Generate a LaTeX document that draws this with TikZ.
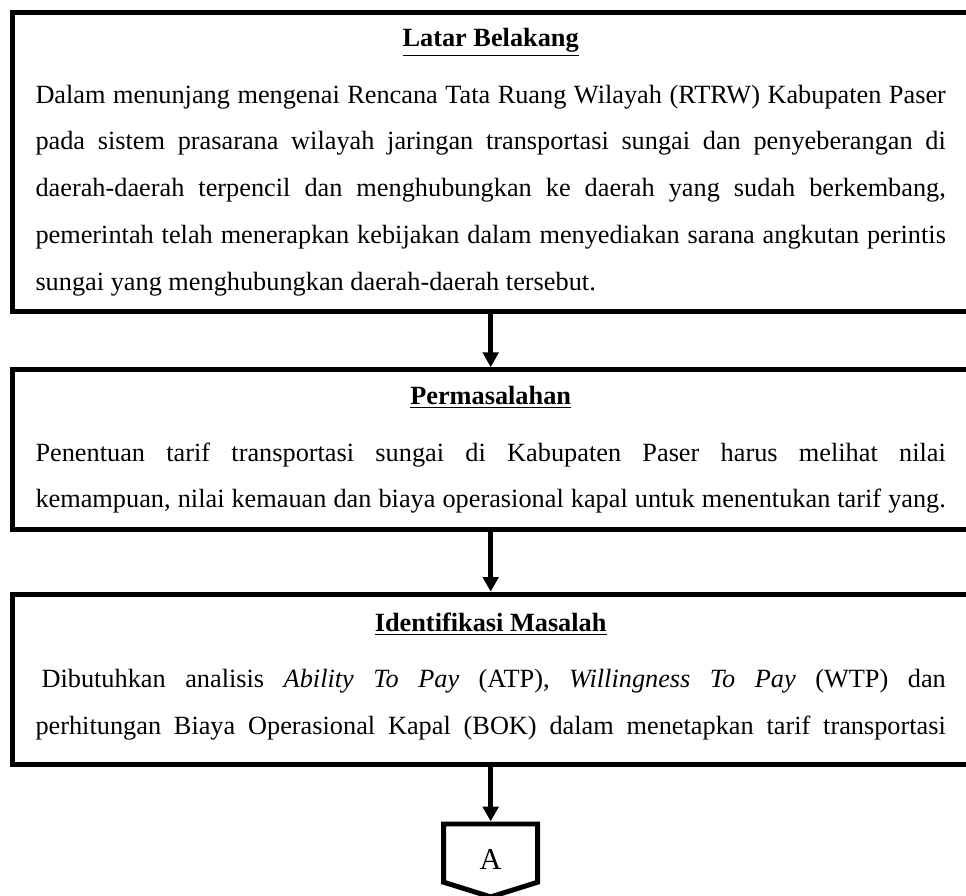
\documentclass[tikz,border=0pt]{standalone}
\usepackage{fontspec}
\setmainfont{Liberation Serif}
\usepackage{tikz}
\usetikzlibrary{arrows.meta}
\newcommand{\flowspace}{\spaceskip=0.25em plus 0.6em minus 0.1em\relax}

\begin{document}
\begin{tikzpicture}[x=1mm,y=1mm,
  flowbox/.style={draw=black, line width=2.2pt, anchor=north, text width=142.3mm,
    inner xsep=3.65mm, inner ysep=6.5pt, font=\fontsize{11.7}{20.8}\selectfont,
    execute at begin node=\flowspace},
  flowarrow/.style={line width=2.1pt, -{Triangle[length=2.3mm, width=2.4mm]}},
  offpage/.style={draw=black, line width=2.2pt, line join=miter}]
  \path[use as bounding box] (0,0) rectangle (151,140);
  \node[flowbox] (latar) at (76.7,138.5) {%
    \noindent\makebox[\linewidth]{\rule{0pt}{9pt}\textbf{\underline{Latar Belakang}}}\\[4.2pt]
    \makebox[\linewidth][s]{Dalam menunjang mengenai Rencana Tata Ruang Wilayah (RTRW) Kabupaten Paser}\\
    \makebox[\linewidth][s]{pada sistem prasarana wilayah jaringan transportasi sungai dan penyeberangan di}\\
    \makebox[\linewidth][s]{daerah-daerah terpencil dan menghubungkan ke daerah yang sudah berkembang,}\\
    \makebox[\linewidth][s]{pemerintah telah menerapkan kebijakan dalam menyediakan sarana angkutan perintis}\\
    sungai yang menghubungkan daerah-daerah tersebut.\rule[-3pt]{0pt}{3pt}
  };
  \node[flowbox] (masalah) at (76.7,82.6) {%
    \noindent\makebox[\linewidth]{\rule{0pt}{9pt}\textbf{\underline{Permasalahan}}}\\[4.4pt]
    \makebox[\linewidth][s]{Penentuan tarif transportasi sungai di Kabupaten Paser harus melihat nilai}\\
    \makebox[\linewidth][s]{kemampuan, nilai kemauan dan biaya operasional kapal untuk menentukan tarif yang.}\rule[-3pt]{0pt}{3pt}
  };
  \node[flowbox] (identifikasi) at (76.7,47.5) {%
    \noindent\makebox[\linewidth]{\rule{0pt}{10pt}\textbf{\underline{Identifikasi Masalah}}}\\[4.2pt]
    \makebox[\linewidth][s]{\hspace*{2.7pt}Dibutuhkan analisis \textit{Ability To Pay} (ATP), \textit{Willingness To Pay} (WTP) dan}\\
    \makebox[\linewidth][s]{perhitungan Biaya Operasional Kapal (BOK) dalam menetapkan tarif transportasi}\rule[-7pt]{0pt}{7pt}
  };
  \draw[offpage] (69.35,11.2) -- (84.05,11.2) -- (84.05,2.1) -- (76.7,-0.2) -- (69.35,2.1) -- cycle;
  \coordinate (offA) at (76.7,11.6);
  \node[font=\fontsize{13.5}{16}\selectfont] (konA) at (76.7,5.7) {A};
  \draw[flowarrow] (latar.south) -- (masalah.north);
  \draw[flowarrow] (masalah.south) -- (identifikasi.north);
  \draw[flowarrow] (identifikasi.south) -- (offA);
\end{tikzpicture}
\end{document}
